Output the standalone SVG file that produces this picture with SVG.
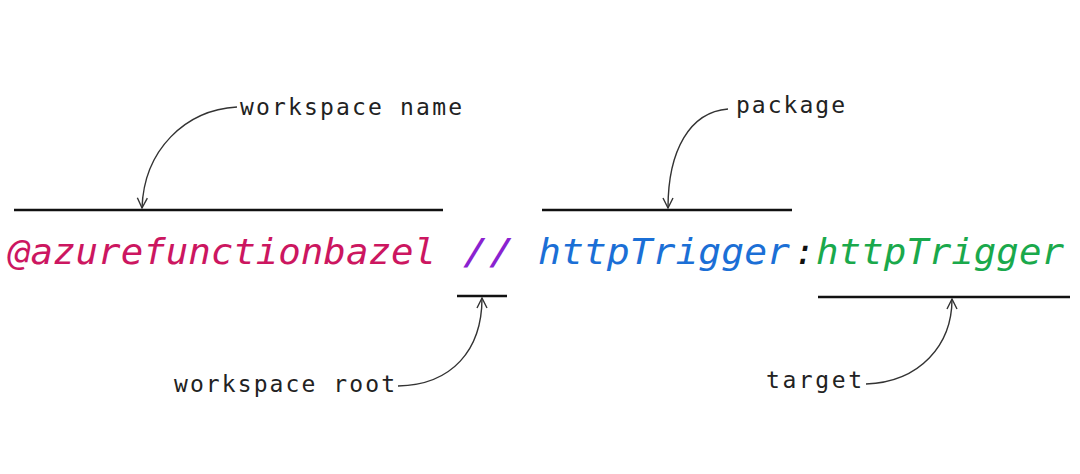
<svg xmlns="http://www.w3.org/2000/svg" width="1080" height="474" viewBox="0 0 1080 474">
<defs>
<style>
.bar{stroke:#111;stroke-width:2.5;fill:none}
.conn{stroke:#333;stroke-width:1.4;fill:none;marker-end:url(#arr)}
.lbl{font-family:"DejaVu Sans Mono","Liberation Mono",monospace;font-size:23px;fill:#222}
.main{font-family:"DejaVu Sans Mono","Liberation Mono",monospace;font-size:35px;font-style:italic}
</style>
<marker id="arr" markerUnits="userSpaceOnUse" markerWidth="14" markerHeight="14" refX="11" refY="6" orient="auto">
<path d="M1,1 L11,6 L1,11" fill="none" stroke="#333" stroke-width="1.4"/>
</marker>
</defs>
<rect width="1080" height="474" fill="#fff"/>
<g id="address">
<text class="main" x="8" y="264" fill="#cc1660" textLength="428" lengthAdjust="spacingAndGlyphs">@azurefunctionbazel</text>
<text class="main" x="463" y="264" fill="#8a22d0" textLength="52" lengthAdjust="spacingAndGlyphs">//</text>
<text class="main" x="538" y="264" fill="#1b6fd6" textLength="252" lengthAdjust="spacingAndGlyphs">httpTrigger</text>
<text class="main" x="794" y="264" fill="#111" font-size="28">:</text>
<text class="main" x="816" y="264" fill="#1aa94c" textLength="248" lengthAdjust="spacingAndGlyphs">httpTrigger</text>
</g>
<g id="bars">
<line class="bar" x1="14" y1="210" x2="443" y2="210"/>
<line class="bar" x1="542" y1="210" x2="792" y2="210"/>
<line class="bar" x1="457" y1="296" x2="507" y2="296"/>
<line class="bar" x1="818" y1="297" x2="1070" y2="297"/>
</g>
<g id="node-workspace-name"><text class="lbl" x="240" y="115" textLength="222">workspace name</text></g>
<g id="node-package"><text class="lbl" x="736" y="113" textLength="109">package</text></g>
<g id="node-workspace-root"><text class="lbl" x="174" y="392" textLength="221">workspace root</text></g>
<g id="node-target"><text class="lbl" x="766" y="388" textLength="96">target</text></g>
<g id="connectors">
<path class="conn" d="M237,107 C185,110 144,150 142,208"/>
<path class="conn" d="M728,109 C690,112 668,150 668,208"/>
<path class="conn" d="M398,386 C452,385 482,350 482,298"/>
<path class="conn" d="M866,384 C920,382 952,345 952,299"/>
</g>
</svg>
